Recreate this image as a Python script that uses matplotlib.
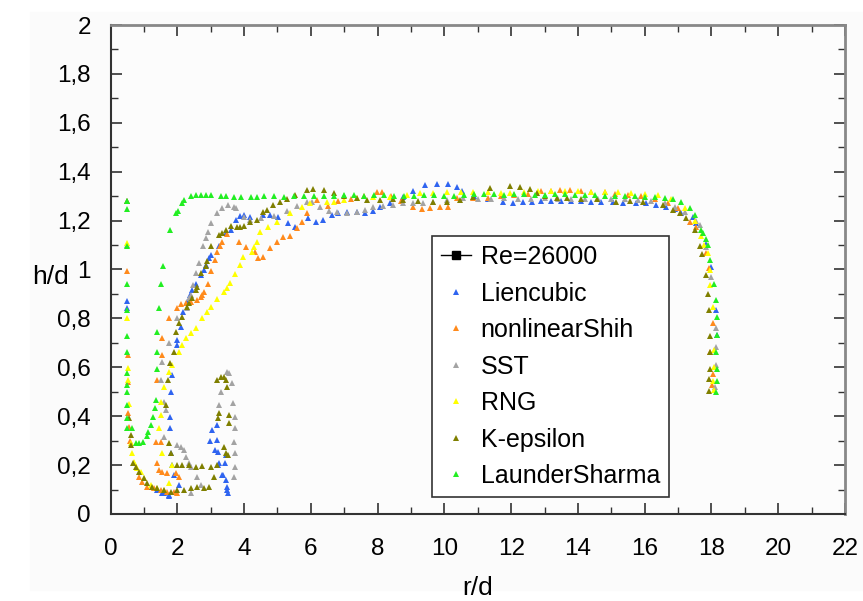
import matplotlib
matplotlib.use("Agg")
import matplotlib.pyplot as plt
from matplotlib.patches import Rectangle
from matplotlib.ticker import MultipleLocator, FuncFormatter

# Liencubic
lien_x = [0.5, 0.5, 1.4, 1.55, 1.6, 1.75, 1.75, 2.05, 1.9, 1.85, 1.8, 1.78, 1.78, 1.8, 1.85, 2.0, 2.0,
          2.1, 2.18, 2.3, 2.38, 2.45, 2.55, 2.7, 2.8, 2.85, 2.95, 3.0, 3.25, 3.45, 3.6, 3.75, 3.88, 4.0,
          4.18, 4.58, 4.78, 5.03, 5.33, 5.53, 5.93, 6.17, 6.37, 6.62, 6.82, 7.07, 7.37, 7.62, 7.87, 8.07,
          8.37, 8.77, 9.07, 9.42, 9.77, 10.12, 10.37, 10.52, 10.9, 11.31, 11.76, 12.06, 12.36, 12.61, 12.9,
          13.2, 13.5, 13.8, 14.1, 14.4, 14.7, 15.05, 15.35, 15.75, 16.05, 16.35, 16.65, 16.9, 17.1, 17.45,
          17.55, 17.85, 18.0, 18.15, 18.17,
          2.98, 3.05, 3.18, 3.13, 3.2, 3.22, 3.23, 3.25, 3.35, 3.38, 3.45, 3.5, 3.52, 3.48, 3.42, 3.45]
lien_y = [0.841, 0.87, 0.098, 0.085, 0.085, 0.078, 0.075, 0.12, 0.16, 0.20, 0.248, 0.35, 0.398, 0.50, 0.569, 0.691, 0.712,
          0.766, 0.828, 0.868, 0.896, 0.916, 0.939, 0.977, 1.0, 1.018, 1.046, 1.059, 1.097, 1.148, 1.162, 1.202, 1.219, 1.223,
          1.216, 1.223, 1.223, 1.216, 1.19, 1.175, 1.209, 1.196, 1.203, 1.223, 1.23, 1.237, 1.237, 1.23, 1.24, 1.257,
          1.274, 1.298, 1.322, 1.346, 1.35, 1.348, 1.339, 1.322, 1.30, 1.29, 1.278, 1.273, 1.278, 1.278, 1.28,
          1.28, 1.282, 1.28, 1.28, 1.278, 1.278, 1.275, 1.273, 1.273, 1.27, 1.264, 1.257, 1.246, 1.23, 1.216,
          1.19, 1.104, 1.01, 0.834, 0.732,
          0.30, 0.344, 0.364, 0.26, 0.303, 0.255, 0.20, 0.207, 0.16, 0.16, 0.14, 0.112, 0.087, 0.098, 0.207, 0.241]

# nonlinearShih
shih_x = [0.5, 0.52, 0.52, 0.52, 0.55, 0.58, 0.7, 0.85, 0.95, 1.1, 1.3, 1.5, 1.7, 1.9, 2.0,
          1.35, 1.5, 1.4, 1.45, 1.55, 1.7, 1.95, 2.05, 1.4, 1.55, 1.55,
          1.75, 2.0, 2.1, 2.25, 2.4, 2.58, 2.7, 2.75, 2.8, 2.92, 3.0, 3.12, 3.2, 3.28, 3.35, 3.5, 3.85,
          4.05, 4.33, 4.43, 4.58, 4.78, 4.98, 5.18, 5.38, 5.58, 5.73, 5.88, 6.18, 6.5, 6.8, 7.2, 7.6,
          7.97, 8.12, 8.4, 8.7, 9.07, 9.32, 9.57, 9.87, 10.12, 10.37, 10.87, 11.3, 11.7, 12.1, 12.5,
          12.9, 13.2, 13.46, 13.76, 14.1, 14.4, 14.8, 15.1, 15.5, 15.9, 16.3, 16.7, 17.0, 17.35, 17.55,
          17.85, 17.93, 18.05, 17.97, 18.05, 18.03]
shih_y = [0.995, 0.65, 0.541, 0.412, 0.357, 0.30, 0.21, 0.153, 0.132, 0.112, 0.105, 0.10, 0.09, 0.091, 0.085,
          0.296, 0.296, 0.207, 0.18, 0.173, 0.166, 0.166, 0.153, 0.548, 0.65, 0.718,
          0.80, 0.844, 0.859, 0.864, 0.868, 0.875, 0.889, 0.896, 0.909, 0.939, 0.994, 1.039, 1.073, 1.096, 1.114, 1.145, 1.114,
          1.093, 1.073, 1.046, 1.052, 1.087, 1.114, 1.134, 1.137, 1.168, 1.196, 1.23, 1.284, 1.26, 1.28, 1.29, 1.30,
          1.316, 1.318, 1.30, 1.28, 1.257, 1.246, 1.25, 1.254, 1.257, 1.291, 1.291, 1.291, 1.30, 1.305, 1.31,
          1.32, 1.322, 1.325, 1.325, 1.32, 1.318, 1.315, 1.31, 1.305, 1.30, 1.29, 1.27, 1.25, 1.196, 1.175,
          1.066, 1.005, 0.78, 0.664, 0.572, 0.528]

# SST
sst_x = [0.5, 0.5, 1.55, 1.5, 1.6, 1.65, 1.6, 1.75, 1.98, 2.28, 2.35, 2.4, 2.48, 2.57, 2.65, 2.78, 2.85,
         2.92, 3.0, 3.2, 3.35, 3.52, 3.7, 3.75, 4.0, 4.18, 4.5, 4.9, 5.3, 5.6, 5.88, 6.03, 6.28, 6.53,
         6.78, 7.07, 7.37, 7.62, 7.87, 8.17, 8.47, 8.77, 9.07, 9.37, 9.67, 10.07, 10.57, 11.0, 11.4, 11.8,
         12.2, 12.6, 13.0, 13.4, 13.8, 14.2, 14.6, 15.0, 15.4, 15.8, 16.2, 16.6, 16.9, 17.2, 17.55, 17.65,
         17.85, 18.0, 18.13, 18.13, 18.13, 18.1,
         2.0, 2.1, 2.2, 2.25, 2.35, 2.4, 2.58, 2.4, 2.7,
         3.3, 3.25, 3.5, 3.55, 3.63, 3.67, 3.72, 3.72, 3.7, 3.72, 3.72, 3.7]
sst_y = [1.28, 1.10, 0.623, 0.548, 0.46, 0.425, 0.316, 0.70, 0.80, 0.841, 0.882, 0.896, 0.937, 0.984, 1.028, 1.096, 1.127,
         1.155, 1.191, 1.23, 1.25, 1.264, 1.257, 1.25, 1.215, 1.203, 1.21, 1.22, 1.24, 1.26, 1.278, 1.277, 1.257, 1.239,
         1.237, 1.23, 1.237, 1.243, 1.257, 1.26, 1.264, 1.271, 1.274, 1.274, 1.278, 1.285, 1.291, 1.29, 1.29, 1.292,
         1.29, 1.29, 1.292, 1.29, 1.29, 1.29, 1.288, 1.288, 1.287, 1.285, 1.28, 1.27, 1.255, 1.235, 1.20, 1.18,
         1.09, 0.97, 0.76, 0.684, 0.61, 0.52,
         0.282, 0.275, 0.262, 0.235, 0.207, 0.194, 0.153, 0.087, 0.12,
         0.50, 0.446, 0.582, 0.578, 0.535, 0.453, 0.398, 0.35, 0.296, 0.248, 0.194, 0.153]

# RNG
rng_x = [0.5, 0.5, 0.52, 0.52, 0.55, 0.6, 0.65, 0.7, 0.8, 0.9, 1.0, 1.2, 1.4, 1.6,
         1.75, 1.85, 1.55, 1.45, 1.5, 1.5, 1.6, 1.75, 1.85, 2.05, 2.15, 2.25, 2.4, 2.55, 2.75, 2.9,
         3.0, 3.2, 3.4, 3.5, 3.58, 3.72, 3.88, 3.98, 4.25, 4.3, 4.4, 4.48, 4.73, 4.98, 5.38, 5.73,
         5.98, 6.48, 6.68, 6.98, 7.37, 7.87, 8.37, 8.87, 9.27, 9.67, 10.07, 10.5, 10.87, 11.3, 11.7,
         11.96, 12.4, 12.8, 13.2, 13.6, 14.0, 14.4, 14.8, 15.2, 15.6, 16.0, 16.4, 16.8, 17.2, 17.5,
         17.7, 17.78, 17.9, 17.95, 17.97, 18.05, 18.07, 18.07, 18.05, 18.07]
rng_y = [1.107, 0.80, 0.596, 0.55, 0.45, 0.29, 0.248, 0.214, 0.19, 0.173, 0.146, 0.119, 0.105, 0.10,
         0.125, 0.2, 0.248, 0.35, 0.405, 0.46, 0.52, 0.582, 0.61, 0.664, 0.691, 0.718, 0.739, 0.759, 0.80, 0.825,
         0.845, 0.878, 0.907, 0.923, 0.943, 0.98, 1.018, 1.052, 1.073, 1.093, 1.114, 1.155, 1.173, 1.196, 1.23, 1.257,
         1.271, 1.278, 1.278, 1.284, 1.294, 1.298, 1.298, 1.305, 1.312, 1.314, 1.318, 1.318, 1.318, 1.315, 1.312,
         1.312, 1.318, 1.32, 1.32, 1.322, 1.32, 1.318, 1.318, 1.315, 1.312, 1.31, 1.305, 1.29, 1.25, 1.2,
         1.135, 1.10, 1.066, 1.0, 0.937, 0.848, 0.67, 0.60, 0.545, 0.507]

# K-epsilon
keps_x = [0.5, 0.55, 0.62, 0.6, 0.68, 0.75, 0.85, 1.0, 1.1, 1.25, 1.4, 1.6, 1.8, 2.0, 2.2, 2.4, 2.6,
          2.8, 2.95, 3.1, 3.2, 3.22, 3.25, 3.2, 3.3, 3.4, 3.45, 3.5, 3.55, 3.55, 3.4, 3.45, 3.52,
          2.0, 2.15, 2.35, 2.55, 2.75, 3.0,
          1.75, 1.8, 1.65, 1.72, 1.78, 1.9, 1.95, 2.05, 2.15, 2.28, 2.35, 2.45, 2.55, 2.6, 2.7, 2.85,
          2.9, 3.0, 3.25, 3.35, 3.45, 3.6, 3.8, 3.88, 4.0, 4.18, 4.4, 4.58, 4.68, 4.88, 5.08, 5.28,
          5.53, 5.88, 6.08, 6.38, 6.68, 7.0, 7.37, 7.67, 8.07, 8.47, 8.77, 9.2, 9.67, 10.07, 10.47,
          10.87, 11.36, 11.96, 12.26, 12.56, 12.76, 13.0, 13.36, 13.66, 14.1, 14.56, 15.15, 15.55,
          15.95, 16.55, 16.85, 17.05, 17.25, 17.5, 17.65, 17.73, 17.85, 17.9, 17.93, 17.97, 17.97,
          17.97, 17.93, 17.93]
keps_y = [1.28, 0.391, 0.323, 0.282, 0.207, 0.194, 0.173, 0.146, 0.125, 0.112, 0.105, 0.098, 0.091, 0.098, 0.10, 0.105, 0.109,
          0.105, 0.112, 0.153, 0.2, 0.391, 0.412, 0.548, 0.56, 0.562, 0.548, 0.521, 0.405, 0.371, 0.275, 0.248, 0.241,
          0.2, 0.2, 0.20, 0.194, 0.196, 0.194,
          0.29, 0.248, 0.446, 0.548, 0.616, 0.664, 0.746, 0.78, 0.807, 0.848, 0.862, 0.882, 0.916, 0.93, 0.984, 1.014,
          1.036, 1.096, 1.141, 1.148, 1.162, 1.178, 1.175, 1.175, 1.179, 1.196, 1.202, 1.237, 1.243, 1.264, 1.278, 1.287,
          1.305, 1.325, 1.328, 1.325, 1.314, 1.30, 1.294, 1.284, 1.284, 1.287, 1.284, 1.28, 1.278, 1.278, 1.284,
          1.298, 1.332, 1.342, 1.339, 1.328, 1.312, 1.30, 1.291, 1.291, 1.29, 1.287, 1.278, 1.28,
          1.278, 1.264, 1.243, 1.23, 1.21, 1.16, 1.096, 1.063, 0.978, 0.90, 0.834, 0.73, 0.664,
          0.593, 0.552, 0.503]

# LaunderSharma
ls_x = [0.5, 0.5, 0.5, 0.5, 0.5, 0.5, 0.5, 0.5, 0.5, 0.5, 0.5, 0.5, 0.5, 0.65, 0.75, 0.85, 0.98, 1.1,
        1.12, 1.2, 1.28, 1.33, 1.37, 1.4, 1.4, 1.4, 1.45, 1.5, 1.57, 1.77, 1.97, 2.03, 2.13, 2.2, 2.4,
        2.55, 2.7, 2.85, 3.0, 3.3, 3.45, 3.7, 3.9, 4.2, 4.4, 4.6, 4.9, 5.2, 5.5, 5.8, 6.1, 6.4, 6.7,
        7.0, 7.3, 7.6, 7.9, 8.2, 8.5, 8.8, 9.1, 9.4, 9.7, 10.0, 10.3, 10.6, 10.9, 11.2, 11.5, 11.8,
        12.1, 12.4, 12.7, 13.0, 13.3, 13.6, 13.9, 14.2, 14.5, 14.8, 15.1, 15.4, 15.7, 16.0, 16.3, 16.6,
        16.85, 17.1, 17.35, 17.5, 17.7, 17.75, 17.85, 17.9, 17.95, 18.07, 18.13, 18.17, 18.17, 18.15,
        18.17, 18.17, 18.13]
ls_y = [1.28, 1.246, 1.097, 0.939, 0.834, 0.728, 0.661, 0.575, 0.528, 0.50, 0.446, 0.391, 0.35, 0.35, 0.29, 0.29, 0.296, 0.32,
        0.337, 0.364, 0.398, 0.432, 0.466, 0.592, 0.664, 0.746, 0.844, 0.939, 1.016, 1.161, 1.23, 1.24, 1.27, 1.284, 1.30,
        1.305, 1.305, 1.305, 1.305, 1.30, 1.30, 1.298, 1.298, 1.298, 1.298, 1.30, 1.30, 1.298, 1.30, 1.30, 1.302, 1.30, 1.30,
        1.305, 1.305, 1.30, 1.305, 1.305, 1.302, 1.30, 1.30, 1.305, 1.305, 1.30, 1.30, 1.305, 1.308, 1.31, 1.31, 1.305,
        1.31, 1.31, 1.305, 1.305, 1.31, 1.31, 1.305, 1.305, 1.305, 1.30, 1.30, 1.30, 1.30, 1.298, 1.295, 1.293,
        1.29, 1.277, 1.25, 1.223, 1.16, 1.148, 1.123, 1.10, 1.04, 0.94, 0.875, 0.807, 0.732, 0.664,
        0.592, 0.545, 0.50]

series = [
    ("Liencubic", lien_x, lien_y, "#2f64f0"),
    ("nonlinearShih", shih_x, shih_y, "#ff8a1c"),
    ("SST", sst_x, sst_y, "#a3a3a3"),
    ("RNG", rng_x, rng_y, "#ffff00"),
    ("K-epsilon", keps_x, keps_y, "#7f7f00"),
    ("LaunderSharma", ls_x, ls_y, "#22ee22"),
]

plt.rcParams['font.family'] = ['Liberation Sans', 'DejaVu Sans']

fig = plt.figure(figsize=(8.63, 6.01), dpi=100)
fig.patches.append(Rectangle((30 / 863, 1 - 590 / 601), 1, (590 - 12) / 601,
                             transform=fig.transFigure, color="#fbfbfb", zorder=-10))
ax = fig.add_axes([110.5 / 863, 1 - 514 / 601, (845 - 110.5) / 863, (514 - 25) / 601])
ax.set_facecolor("#fcfcfc")

# experimental series: listed in legend only
ax.plot([], [], color="black", marker="s", markersize=6, linewidth=1, label="Re=26000")
for name, xs, ys, col in series:
    ax.plot(xs, ys, linestyle="none", marker="^", markersize=4.4, color=col,
            markeredgewidth=0, label=name)

ax.set_xlim(0, 22)
ax.set_ylim(0, 2)
ax.xaxis.set_major_locator(MultipleLocator(2))
ax.xaxis.set_minor_locator(MultipleLocator(1))
ax.yaxis.set_major_locator(MultipleLocator(0.2))
ax.yaxis.set_minor_locator(MultipleLocator(0.1))


def comma_fmt(v, pos):
    s = "%g" % round(v, 2)
    return s.replace(".", ",")


ax.xaxis.set_major_formatter(FuncFormatter(comma_fmt))
ax.yaxis.set_major_formatter(FuncFormatter(comma_fmt))
ax.tick_params(which="both", direction="in", top=True, right=True, colors="#333333")
ax.tick_params(which="major", length=8, width=1.2, labelsize=17.5, labelcolor="black")
ax.tick_params(axis="x", which="major", pad=17)
ax.tick_params(axis="y", which="major", pad=14)
ax.tick_params(which="minor", length=5, width=1)
for side in ["left", "bottom"]:
    ax.spines[side].set_color("#333333")
    ax.spines[side].set_linewidth(1.5)
for side in ["top", "right"]:
    ax.spines[side].set_color("#888888")
    ax.spines[side].set_linewidth(2)

fig.text(50 / 863, 1 - 277 / 601, "h/d", fontsize=19, ha="center", va="center")
fig.text(478 / 863, 1 - 588 / 601, "r/d", fontsize=19, ha="center", va="center")

leg = ax.legend(loc="lower left", bbox_to_anchor=(0.4377, 0.035), fontsize=18,
                frameon=True, fancybox=False, framealpha=1, edgecolor="#333333",
                handlelength=1.2, handletextpad=0.4, labelspacing=0.5, borderpad=0.35,
                borderaxespad=0, markerscale=1.0)
leg.get_frame().set_linewidth(1.2)

fig.savefig("out.png", dpi=100)
